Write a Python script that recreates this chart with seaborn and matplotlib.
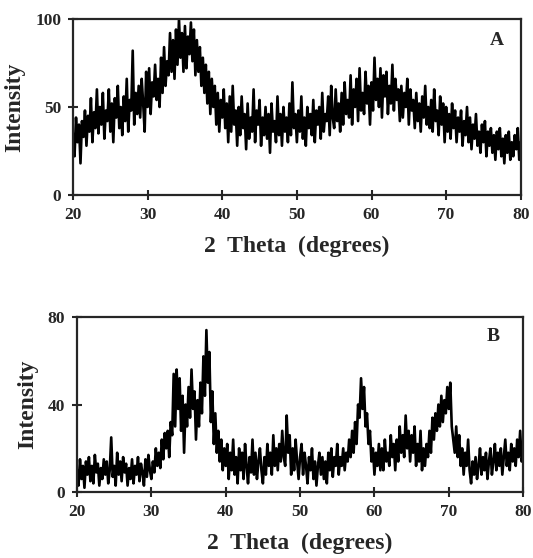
import numpy as np
import pandas as pd
import matplotlib
matplotlib.use('Agg')
import matplotlib.pyplot as plt
import seaborn as sns

## Datos, paso de 0.2 grados entre 20 y 80
two_theta = np.round(np.arange(20, 80.0001, 0.2), 1)

intensity_a = [
    35, 22, 44, 30, 40,  18, 42, 33, 48, 28,  45, 36, 55, 30, 47,  38, 60, 35, 50, 40,
    58, 32, 48, 42, 60,  36, 52, 30, 55, 44,  62, 38, 50, 34, 56,  42, 66, 36, 54, 48,
    82, 40, 58, 46, 62,  44, 66, 52, 36, 70,  50, 72, 46, 64, 56,  74, 54, 66, 50, 78,
    58, 84, 62, 76, 68,  92, 70, 88, 66, 94,  74, 100, 78, 92, 70, 96, 72, 90, 80, 98,
    76, 94, 68, 88, 70,  84, 62, 78, 58, 74,  52, 70, 46, 66, 50,  62, 40, 58, 36, 54,
    44, 60, 38, 52, 30,  56, 36, 62, 40, 48,  28, 50, 34, 56, 38,  46, 26, 52, 32, 44,
    36, 60, 30, 48, 40,  54, 28, 44, 34, 50,  32, 46, 24, 52, 36,  42, 30, 56, 34, 46,
    28, 50, 36, 44, 30,  52, 34, 64, 38, 46,  30, 48, 36, 56, 32,  44, 28, 50, 38, 46,
    34, 54, 30, 48, 40,  50, 32, 58, 36, 46,  42, 56, 34, 62, 44,  38, 60, 42, 52, 36,
    58, 40, 64, 46, 54,  44, 68, 40, 60, 50,  66, 42, 72, 48, 58,  46, 70, 52, 62, 40,
    64, 48, 78, 54, 66,  50, 72, 44, 68, 56,  70, 46, 62, 52, 74,  48, 66, 54, 60, 42,
    62, 44, 58, 50, 66,  40, 60, 48, 54, 38,  58, 42, 52, 36, 56,  44, 62, 40, 50, 38,
    54, 36, 60, 42, 48,  34, 56, 40, 52, 30,  50, 36, 46, 32, 52,  38, 48, 30, 44, 36,
    48, 28, 42, 34, 50,  30, 44, 26, 40, 32,  46, 28, 36, 24, 40,  30, 42, 22, 36, 28,
    38, 24, 34, 20, 36,  26, 38, 22, 32, 18,  34, 24, 36, 20, 30,  22, 34, 26, 38, 20,
    30,
]

intensity_b = [
    10, 3, 15, 6, 12,  2, 14, 8, 16, 5,  12, 4, 17, 9, 13,  3, 11, 6, 15, 8,
    14, 4, 10, 25, 7,  12, 3, 18, 8, 14,  5, 16, 9, 13, 3,  11, 6, 15, 4, 12,
    8, 16, 5, 13, 9,  3, 15, 7, 17, 10,  6, 14, 9, 20, 12,  18, 11, 24, 15, 27,
    20, 28, 16, 32, 26,  54, 30, 56, 38, 52,  28, 44, 18, 40, 30,  48, 34, 56, 38, 46,
    24, 42, 30, 50, 36,  62, 44, 74, 50, 64,  32, 46, 22, 36, 18,  28, 14, 24, 10, 20,
    12, 22, 6, 18, 10,  24, 8, 16, 4, 20,  10, 18, 6, 22, 12,  4, 16, 9, 24, 8,
    18, 6, 14, 20, 10,  4, 16, 8, 22, 12,  18, 8, 26, 12, 20,  10, 22, 14, 28, 16,
    12, 35, 18, 26, 8,  20, 10, 24, 14, 6,  16, 22, 8, 18, 12,  4, 16, 10, 20, 6,
    14, 3, 12, 18, 8,  16, 6, 14, 4, 18,  10, 20, 7, 16, 12,  22, 8, 16, 12, 20,
    10, 18, 14, 24, 16,  28, 18, 32, 22, 40,  34, 52, 38, 48, 30,  36, 22, 28, 14, 20,
    8, 18, 12, 22, 10,  20, 10, 24, 14, 18,  12, 26, 16, 22, 10,  24, 14, 30, 18, 26,
    16, 35, 20, 28, 14,  26, 18, 30, 12, 22,  14, 28, 10, 20, 12,  22, 16, 28, 18, 34,
    24, 36, 28, 40, 30,  44, 32, 42, 36, 48,  38, 50, 30, 24, 18,  30, 16, 26, 12, 20,
    8, 18, 12, 24, 10,  4, 14, 8, 16, 6,  12, 20, 8, 16, 10,  18, 6, 14, 20, 8,
    14, 22, 10, 18, 12,  20, 8, 16, 24, 12,  18, 10, 22, 14, 20,  12, 24, 16, 28, 14,
    18,
]

x_ticks = [20, 30, 40, 50, 60, 70, 80]
y_ticks_a = [0, 50, 100]
y_ticks_b = [0, 40, 80]

df_a = pd.DataFrame({'two_theta': two_theta, 'intensity': intensity_a})
df_b = pd.DataFrame({'two_theta': two_theta, 'intensity': intensity_b})

sns.set_style('ticks')
plt.rcParams['font.family'] = ['Liberation Serif', 'DejaVu Serif']
plt.rcParams['font.weight'] = 'bold'

fig = plt.figure(figsize=(5.33, 5.58), dpi=100)
ax_a = fig.add_axes([0.137, 0.6505, 0.840, 0.3155])
ax_b = fig.add_axes([0.1445, 0.118, 0.837, 0.314])

panels = [
    (ax_a, df_a, y_ticks_a, 'A', (0.946, 0.88), 9),
    (ax_b, df_b, y_ticks_b, 'B', (0.933, 0.89), 9),
]

for ax, df, yt, letra, pos, xpad in panels:
    sns.lineplot(x='two_theta', y='intensity', data=df, ax=ax, color='black', linewidth=1.9)
    ax.set_xlim(20, 80)
    ax.set_ylim(yt[0], yt[-1])
    ax.set_xticks(x_ticks)
    ax.set_yticks(yt)
    ax.tick_params(direction='inout', length=7, width=1.5, labelsize=12.5, pad=5)
    for lab in ax.get_xticklabels() + ax.get_yticklabels():
        lab.set_fontweight('bold')
    for sp in ax.spines.values():
        sp.set_visible(True)
        sp.set_linewidth(1.6)
    ax.set_xlabel('2  Theta  (degrees)', fontsize=17, fontweight='bold', labelpad=xpad)
    ax.set_ylabel('Intensity', fontsize=17, fontweight='bold', labelpad=7)
    ax.text(pos[0], pos[1], letra, transform=ax.transAxes, fontsize=14,
            fontweight='bold', ha='center', va='center')

fig.savefig('out.png', dpi=100)
